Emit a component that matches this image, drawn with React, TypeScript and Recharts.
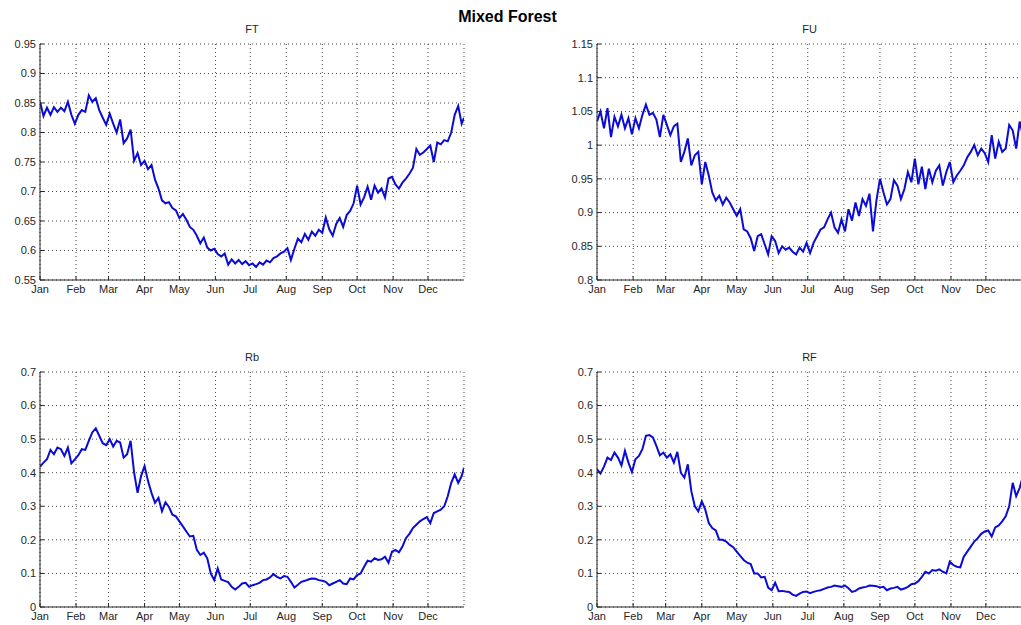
import React from 'react';
import { LineChart, Line, XAxis, YAxis, CartesianGrid } from 'recharts';

const monthTicks = [0, 31, 59, 90, 120, 151, 181, 212, 243, 273, 304, 334];
const monthLabels = ['Jan', 'Feb', 'Mar', 'Apr', 'May', 'Jun', 'Jul', 'Aug', 'Sep', 'Oct', 'Nov', 'Dec'];

const ftTicks = [0.55, 0.6, 0.65, 0.7, 0.75, 0.8, 0.85, 0.9, 0.95];
const fuTicks = [0.8, 0.85, 0.9, 0.95, 1, 1.05, 1.1, 1.15];
const rTicks = [0, 0.1, 0.2, 0.3, 0.4, 0.5, 0.6, 0.7];

// values sampled every 3 days (day 0..363) plus day 365
const ftValues = [
  0.852, 0.828, 0.842, 0.83, 0.843, 0.835, 0.842, 0.836, 0.852, 0.83,
  0.815, 0.83, 0.838, 0.835, 0.863, 0.852, 0.858, 0.838, 0.825, 0.813,
  0.832, 0.815, 0.8, 0.822, 0.782, 0.79, 0.805, 0.752, 0.765, 0.745,
  0.752, 0.738, 0.745, 0.72, 0.705, 0.685, 0.68, 0.682, 0.672, 0.668,
  0.655, 0.662, 0.652, 0.64, 0.635, 0.625, 0.612, 0.622, 0.605, 0.6,
  0.603, 0.594, 0.59, 0.595, 0.576, 0.585, 0.578, 0.584, 0.577, 0.582,
  0.575, 0.578, 0.572, 0.58, 0.576, 0.583, 0.58, 0.587, 0.59, 0.595,
  0.598, 0.604, 0.584, 0.603, 0.62, 0.614, 0.628, 0.618, 0.632, 0.625,
  0.635, 0.63, 0.656, 0.636, 0.625, 0.645, 0.655, 0.64, 0.66, 0.667,
  0.68, 0.71, 0.678, 0.69, 0.708, 0.686, 0.71, 0.698, 0.705, 0.69,
  0.722, 0.725, 0.712, 0.705, 0.715, 0.722, 0.73, 0.74, 0.772, 0.762,
  0.766, 0.772, 0.778, 0.75, 0.783, 0.78, 0.787, 0.785, 0.8, 0.83,
  0.845, 0.815, 0.825,
];

const fuValues = [
  1.035, 1.05, 1.025, 1.055, 1.012, 1.042, 1.028, 1.045, 1.025, 1.04,
  1.016, 1.04, 1.025, 1.045, 1.06, 1.045, 1.048, 1.038, 1.012, 1.045,
  1.03, 1.015, 1.028, 1.032, 0.975, 0.99, 1.01, 0.97, 0.985, 0.99,
  0.942, 0.975, 0.955, 0.93, 0.918, 0.925, 0.912, 0.922, 0.915, 0.905,
  0.895, 0.905, 0.875, 0.872, 0.862, 0.843, 0.865, 0.868, 0.853, 0.838,
  0.865, 0.858, 0.84, 0.85, 0.845, 0.848, 0.842, 0.838, 0.848, 0.842,
  0.855, 0.84, 0.855, 0.865, 0.875, 0.878, 0.89, 0.9, 0.878, 0.87,
  0.89, 0.872, 0.905, 0.888, 0.915, 0.895, 0.92, 0.91, 0.928, 0.872,
  0.918, 0.95, 0.93, 0.912, 0.92, 0.948, 0.94, 0.92, 0.935, 0.96,
  0.945, 0.98, 0.942, 0.968, 0.935, 0.965, 0.945, 0.962, 0.97, 0.94,
  0.96, 0.975, 0.945, 0.955, 0.962, 0.97, 0.982, 0.99, 1.0, 0.985,
  0.995, 0.988, 0.975, 1.015, 0.98, 1.005, 0.99, 0.995, 1.03, 1.022,
  0.995, 1.035, 1.02,
];

const rbValues = [
  0.418, 0.43, 0.44, 0.468, 0.455, 0.475, 0.47, 0.45, 0.475, 0.428,
  0.44, 0.452, 0.47, 0.468, 0.495, 0.52, 0.532, 0.51, 0.488, 0.482,
  0.5, 0.478, 0.495, 0.49, 0.445, 0.455, 0.495, 0.4, 0.34, 0.39,
  0.42, 0.375, 0.34, 0.31, 0.325, 0.285, 0.312, 0.298, 0.275, 0.27,
  0.255, 0.24, 0.225, 0.21, 0.212, 0.17, 0.155, 0.162, 0.145, 0.1,
  0.08, 0.115, 0.082, 0.078, 0.074, 0.06, 0.052, 0.06, 0.07, 0.072,
  0.06, 0.065, 0.068, 0.072, 0.08, 0.082, 0.088, 0.098, 0.09, 0.085,
  0.092, 0.09, 0.075, 0.058, 0.066, 0.075, 0.078, 0.082, 0.085, 0.084,
  0.08, 0.078, 0.075, 0.065, 0.07, 0.075, 0.08, 0.07, 0.068, 0.085,
  0.082, 0.095, 0.1, 0.12, 0.138, 0.135, 0.145, 0.14, 0.142, 0.15,
  0.132, 0.165, 0.17, 0.163, 0.18, 0.205, 0.218, 0.235, 0.245, 0.255,
  0.262, 0.268, 0.25, 0.28, 0.285, 0.29, 0.3, 0.33, 0.37, 0.395,
  0.37, 0.39, 0.415,
];

const rfValues = [
  0.41, 0.398, 0.418, 0.445, 0.438, 0.46, 0.445, 0.422, 0.465, 0.43,
  0.402, 0.44, 0.45, 0.47, 0.51, 0.512, 0.505, 0.48, 0.452, 0.46,
  0.445, 0.455, 0.43, 0.462, 0.4, 0.385, 0.425, 0.345, 0.3, 0.285,
  0.315, 0.29, 0.25, 0.235, 0.228, 0.2, 0.2, 0.195, 0.185, 0.178,
  0.165, 0.152, 0.14, 0.132, 0.128, 0.1, 0.1, 0.088, 0.09, 0.058,
  0.05, 0.072, 0.047, 0.048, 0.046, 0.045, 0.037, 0.033, 0.04, 0.045,
  0.046, 0.041, 0.045, 0.048, 0.05, 0.054, 0.058, 0.06, 0.064, 0.062,
  0.06, 0.064, 0.056, 0.045, 0.048, 0.055, 0.058, 0.06, 0.064, 0.063,
  0.062, 0.058, 0.06, 0.05, 0.055, 0.057, 0.06, 0.052, 0.055, 0.06,
  0.068, 0.07, 0.077, 0.09, 0.105, 0.1, 0.11, 0.108, 0.112, 0.105,
  0.1, 0.135, 0.125, 0.12, 0.118, 0.15, 0.165, 0.18, 0.195, 0.205,
  0.218, 0.225, 0.228, 0.21, 0.237, 0.243, 0.255, 0.27, 0.3, 0.37,
  0.33, 0.355, 0.38,
];

const days = ftValues.map((_, i) => Math.min(i * 3, 365));

const FONT = '"Liberation Sans", Arial, Helvetica, sans-serif';
const AXIS = '#262626';
const LINE = '#0b0bd6';

const fmt = (v: number) => String(Number(v.toFixed(2)));
const monthFmt = (v: number) => {
  const i = monthTicks.indexOf(v);
  return i >= 0 ? monthLabels[i] : '';
};

type PanelProps = {
  title: string;
  values: number[];
  ticks: number[];
  domain: [number, number];
  plotLeft: number;
  plotTop: number;
  plotW: number;
  plotH: number;
};

function Panel({ title, values, ticks, domain, plotLeft, plotTop, plotW, plotH }: PanelProps) {
  const ml = 40;
  const mt = 44;
  const mr = 16;
  const xh = 24;
  const W = ml + plotW + mr;
  const H = mt + plotH + xh;
  const data = values.map((v, i) => ({ d: days[i], v }));
  const tickStyle = { fill: AXIS, fontSize: 11, fontFamily: FONT };
  return (
    <div style={{ position: 'absolute', left: plotLeft - ml, top: plotTop - mt, width: W, height: H }}>
      <LineChart width={W} height={H} data={data} margin={{ top: mt, right: mr, bottom: 0, left: 0 }}>
        <CartesianGrid stroke="#444" strokeDasharray="1 3" strokeWidth={1} />
        <XAxis
          dataKey="d"
          type="number"
          domain={[0, 365]}
          ticks={monthTicks}
          interval={0}
          allowDataOverflow
          tickFormatter={monthFmt}
          height={xh}
          tickSize={-4}
          tickMargin={9}
          stroke={AXIS}
          tick={tickStyle}
        />
        <XAxis
          xAxisId="top"
          orientation="top"
          dataKey="d"
          type="number"
          domain={[0, 365]}
          ticks={monthTicks}
          interval={0}
          allowDataOverflow
          tickFormatter={() => ''}
          height={0}
          tickSize={-4}
          stroke={AXIS}
          tick={tickStyle}
        />
        <YAxis
          type="number"
          domain={domain}
          ticks={ticks}
          interval={0}
          allowDataOverflow
          tickFormatter={fmt}
          width={ml}
          tickSize={-4}
          tickMargin={8}
          stroke={AXIS}
          tick={tickStyle}
        />
        <YAxis
          yAxisId="right"
          orientation="right"
          type="number"
          domain={domain}
          ticks={ticks}
          interval={0}
          allowDataOverflow
          tickFormatter={() => ''}
          width={0}
          tickSize={-4}
          stroke={AXIS}
          tick={tickStyle}
        />
        <Line
          type="linear"
          dataKey="v"
          stroke={LINE}
          strokeWidth={2}
          dot={false}
          activeDot={false}
          isAnimationActive={false}
        />
      </LineChart>
      <div
        style={{
          position: 'absolute',
          left: ml,
          top: mt - 20,
          width: plotW,
          textAlign: 'center',
          fontFamily: FONT,
          fontSize: 11,
          lineHeight: '11px',
          color: AXIS,
        }}
      >
        {title}
      </div>
    </div>
  );
}

export default function App() {
  return (
    <div
      style={{
        position: 'fixed',
        left: 0,
        top: 0,
        width: 1021,
        height: 625,
        overflow: 'hidden',
        background: '#fff',
      }}
    >
      <div
        style={{
          position: 'absolute',
          left: 0,
          top: 9,
          width: 1015,
          textAlign: 'center',
          fontFamily: FONT,
          fontWeight: 'bold',
          fontSize: 16,
          lineHeight: '16px',
          color: '#000',
        }}
      >
        Mixed Forest
      </div>
      <Panel title="FT" values={ftValues} ticks={ftTicks} domain={[0.55, 0.95]} plotLeft={40} plotTop={44} plotW={424} plotH={236} />
      <Panel title="FU" values={fuValues} ticks={fuTicks} domain={[0.8, 1.15]} plotLeft={597} plotTop={44} plotW={425} plotH={236} />
      <Panel title="Rb" values={rbValues} ticks={rTicks} domain={[0, 0.7]} plotLeft={40} plotTop={372} plotW={424} plotH={235} />
      <Panel title="RF" values={rfValues} ticks={rTicks} domain={[0, 0.7]} plotLeft={597} plotTop={372} plotW={425} plotH={235} />
    </div>
  );
}
